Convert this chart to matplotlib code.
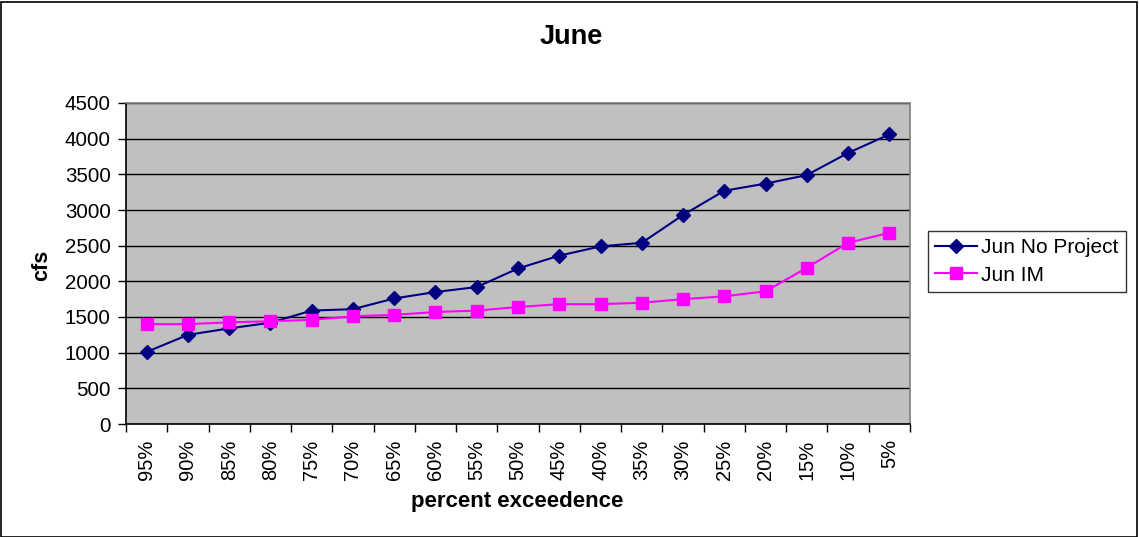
import matplotlib
matplotlib.use("Agg")
import matplotlib.pyplot as plt
from matplotlib.patches import Rectangle
import numpy as np

plt.rcParams['font.family'] = ['Liberation Sans', 'DejaVu Sans']

categories = ["95%", "90%", "85%", "80%", "75%", "70%", "65%", "60%", "55%", "50%",
              "45%", "40%", "35%", "30%", "25%", "20%", "15%", "10%", "5%"]
no_project = [1010, 1250, 1340, 1420, 1590, 1610, 1760, 1850, 1920, 2180,
              2360, 2490, 2540, 2930, 3270, 3370, 3490, 3800, 4060]
jun_im = [1400, 1400, 1425, 1440, 1460, 1510, 1530, 1570, 1590, 1640,
          1680, 1680, 1700, 1750, 1790, 1860, 2190, 2540, 2680]
yticks = [0, 500, 1000, 1500, 2000, 2500, 3000, 3500, 4000, 4500]

W, H = 1139, 537
fig = plt.figure(figsize=(W / 100, H / 100), dpi=100)
fig.patches.append(Rectangle((0.5 / W, 0.5 / H), (W - 2.5) / W, (H - 2) / H,
                             transform=fig.transFigure, fill=False,
                             edgecolor='black', linewidth=1.2))

left, right, top, bottom = 126, 910, 103, 424
ax = fig.add_axes([left / W, 1 - bottom / H, (right - left) / W, (bottom - top) / H])
ax.set_facecolor('#C0C0C0')
for s in ax.spines.values():
    s.set_color('#808080')
    s.set_linewidth(1.2)
ax.spines['left'].set_color('black')
ax.spines['bottom'].set_color('black')

x = np.arange(len(categories))
ax.plot(x, no_project, color='#000080', marker='D', markersize=7, linewidth=1.5,
        label='Jun No Project', zorder=3)
ax.plot(x, jun_im, color='#FF00FF', marker='s', markersize=8, linewidth=1.5,
        label='Jun IM', zorder=3)

ax.set_xlim(-0.5, len(categories) - 0.5)
ax.set_ylim(0, 4500)
ax.set_yticks(yticks)
ax.set_yticklabels([str(v) for v in yticks], fontsize=14.8)
ax.yaxis.grid(True, color='black', linewidth=1)
ax.set_axisbelow(True)
ax.tick_params(axis='y', direction='out', length=6, width=1, color='black', pad=5)

ax.set_xticks(np.arange(-0.5, len(categories), 1.0))
ax.set_xticklabels([])
ax.tick_params(axis='x', which='major', direction='out', length=6, width=1, color='black')
ax.set_xticks(x, minor=True)
ax.set_xticklabels(categories, minor=True, rotation=90, fontsize=14.5)
ax.tick_params(axis='x', which='minor', length=0, pad=11)

fig.text(571 / W, 1 - 37 / H, 'June', fontsize=19.5, fontweight='bold',
         ha='center', va='center')
fig.text(42 / W, 1 - 265 / H, 'cfs', fontsize=15.5, fontweight='bold',
         ha='center', va='center', rotation=90)
fig.text(517 / W, 1 - 501 / H, 'percent exceedence', fontsize=16, fontweight='bold',
         ha='center', va='center')

leg = ax.legend(loc='upper left', bbox_to_anchor=(928 / W, 1 - 231 / H),
                bbox_transform=fig.transFigure, frameon=True, fancybox=False,
                fontsize=15, handlelength=2.0, borderpad=0.35, labelspacing=0.4,
                handletextpad=0.2, borderaxespad=0)
leg.get_frame().set_edgecolor('black')
leg.get_frame().set_linewidth(1)

fig.savefig('out.png', dpi=100)
